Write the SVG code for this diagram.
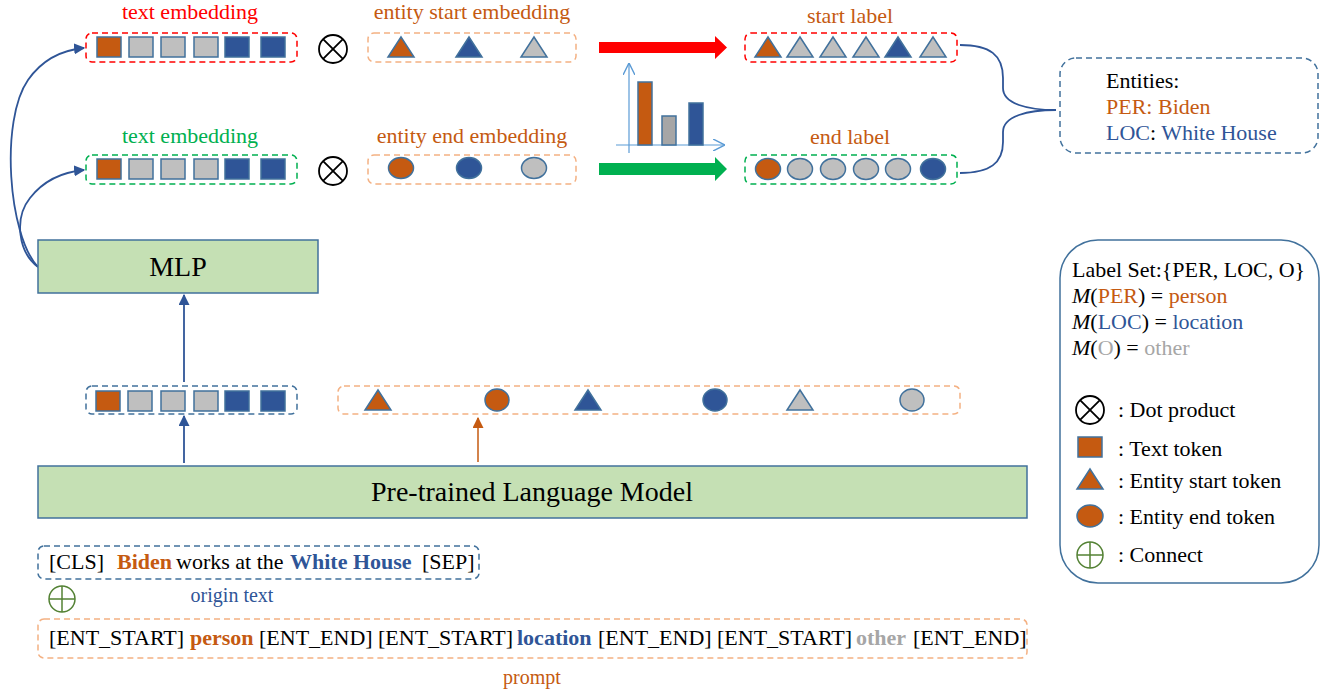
<svg xmlns="http://www.w3.org/2000/svg" width="1322" height="694" viewBox="0 0 1322 694">
  <style>
    text { font-family: "Liberation Serif", "Times New Roman", serif; font-size: 22px; fill: #000; }
    .o { fill: #c55a11; }
    .b { fill: #2f5597; }
    .g { fill: #bfbfbf; }
    .tok { stroke: #41719c; stroke-width: 1.5; }
    .dash { fill: none; stroke-width: 1.5; stroke-dasharray: 6 4; }
    .dred { stroke: #ff0000; }
    .dgrn { stroke: #00b050; }
    .dorg { stroke: #f4b183; }
    .dblu { stroke: #41719c; }
    .box { fill: #c5e0b4; stroke: #41719c; stroke-width: 1.5; }
    .link { fill: none; stroke: #2f5597; stroke-width: 1.8; }
    .dot { fill: none; stroke: #000; stroke-width: 1.8; }
    .plus { fill: none; stroke: #548235; stroke-width: 1.5; }
    .axis { fill: none; stroke: #5b9bd5; stroke-width: 1.2; }
    .tc { text-anchor: middle; }
    .to { fill: #c55a11; }
    .tb { fill: #2f5597; }
    .tg { fill: #a6a6a6; }
    .bold { font-weight: bold; }
  </style>
  <defs>
    <rect id="sq" x="-12" y="-10" width="24" height="20"/>
    <polygon id="tri" points="0,-10 13,10 -13,10"/>
    <ellipse id="ell" rx="12.5" ry="10.5"/>
    <g id="otimes">
      <circle r="14" class="dot"/>
      <path d="M-9.9,-9.9 L9.9,9.9 M9.9,-9.9 L-9.9,9.9" class="dot"/>
    </g>
    <g id="oplus">
      <circle r="13" class="plus"/>
      <path d="M-13,0 H13 M0,-13 V13" class="plus"/>
    </g>
    <marker id="ahB" viewBox="0 0 10 10" refX="9" refY="5" markerWidth="11" markerHeight="11" markerUnits="userSpaceOnUse" orient="auto">
      <path d="M0,0 L10,5 L0,10 z" fill="#2f5597"/>
    </marker>
    <marker id="ahO" viewBox="0 0 10 10" refX="9" refY="5" markerWidth="11" markerHeight="11" markerUnits="userSpaceOnUse" orient="auto">
      <path d="M0,0 L10,5 L0,10 z" fill="#c55a11"/>
    </marker>
    <marker id="ahAx" viewBox="0 0 10 10" refX="10" refY="5" markerWidth="12" markerHeight="12" markerUnits="userSpaceOnUse" orient="auto">
      <path d="M0,0 L10,5 L0,10" fill="none" stroke="#5b9bd5" stroke-width="1.2"/>
    </marker>
  </defs>

  <!-- connectors -->
  <g id="connectors">
    <path class="link" d="M38,267 C8,235 0,120 28,80 C42,60 62,50 84,48" marker-end="url(#ahB)"/>
    <path class="link" d="M38,267 C18,252 14,218 30,198 C44,180 62,172 84,170" marker-end="url(#ahB)"/>
    <line class="link" x1="184" y1="382" x2="184" y2="295" marker-end="url(#ahB)"/>
    <line class="link" x1="184" y1="463" x2="184" y2="416" marker-end="url(#ahB)"/>
    <line x1="478" y1="462" x2="478" y2="418" stroke="#c55a11" stroke-width="1.5" marker-end="url(#ahO)"/>
    <polygon points="599,42 715,42 715,36 727,47.5 715,59 715,53 599,53" fill="#ff0000"/>
    <polygon points="599,163 715,163 715,157 727,169 715,181 715,175 599,175" fill="#00b050"/>
    <path class="link" d="M960,45 C990,45 1003,55 1003,78 L1003,88 C1003,104 1028,110 1056,110"/>
    <path class="link" d="M960,173 C990,173 1003,163 1003,142 L1003,132 C1003,116 1028,110 1056,110"/>
  </g>

  <!-- start-side text embedding -->
  <g id="text-emb-start">
    <text x="190" y="19" class="tc" style="fill:#ff0000">text embedding</text>
    <rect x="86" y="33" width="211" height="29" rx="6" class="dash dred"/>
    <use href="#sq" x="109" y="47" class="tok o"/>
    <use href="#sq" x="141" y="47" class="tok g"/>
    <use href="#sq" x="173" y="47" class="tok g"/>
    <use href="#sq" x="206" y="47" class="tok g"/>
    <use href="#sq" x="237" y="47" class="tok b"/>
    <use href="#sq" x="273" y="47" class="tok b"/>
  </g>

  <!-- end-side text embedding -->
  <g id="text-emb-end">
    <text x="190" y="143" class="tc" style="fill:#00b050">text embedding</text>
    <rect x="86" y="155" width="211" height="29" rx="6" class="dash dgrn"/>
    <use href="#sq" x="109" y="169" class="tok o"/>
    <use href="#sq" x="141" y="169" class="tok g"/>
    <use href="#sq" x="173" y="169" class="tok g"/>
    <use href="#sq" x="206" y="169" class="tok g"/>
    <use href="#sq" x="237" y="169" class="tok b"/>
    <use href="#sq" x="273" y="169" class="tok b"/>
  </g>

  <g id="dot-start"><use href="#otimes" x="333" y="49"/></g>
  <g id="dot-end"><use href="#otimes" x="333" y="171"/></g>

  <!-- entity start embedding -->
  <g id="entity-start-emb">
    <text x="472" y="19" class="tc to">entity start embedding</text>
    <rect x="368" y="33" width="208" height="29" rx="6" class="dash dorg"/>
    <use href="#tri" x="401" y="47" class="tok o"/>
    <use href="#tri" x="469" y="47" class="tok b"/>
    <use href="#tri" x="534" y="47" class="tok g"/>
  </g>

  <!-- entity end embedding -->
  <g id="entity-end-emb">
    <text x="472" y="143" class="tc to">entity end embedding</text>
    <rect x="368" y="155" width="208" height="29" rx="6" class="dash dorg"/>
    <use href="#ell" x="401" y="168" class="tok o"/>
    <use href="#ell" x="469" y="168" class="tok b"/>
    <use href="#ell" x="534" y="168" class="tok g"/>
  </g>

  <!-- score chart -->
  <g id="chart">
    <line class="axis" x1="629" y1="153" x2="629" y2="63" marker-end="url(#ahAx)"/>
    <line class="axis" x1="616" y1="145" x2="725" y2="145" marker-end="url(#ahAx)"/>
    <rect x="638" y="82" width="14" height="63" class="tok o"/>
    <rect x="662" y="116" width="14" height="29" class="tok" fill="#a6a6a6"/>
    <rect x="689" y="103" width="14" height="42" class="tok b"/>
  </g>

  <!-- start label -->
  <g id="start-label">
    <text x="850" y="23" class="tc to">start label</text>
    <rect x="745" y="33" width="212" height="29" rx="6" class="dash dred"/>
    <use href="#tri" x="768" y="47" class="tok o"/>
    <use href="#tri" x="800" y="47" class="tok g"/>
    <use href="#tri" x="833" y="47" class="tok g"/>
    <use href="#tri" x="866" y="47" class="tok g"/>
    <use href="#tri" x="898" y="47" class="tok b"/>
    <use href="#tri" x="933" y="47" class="tok g"/>
  </g>

  <!-- end label -->
  <g id="end-label">
    <text x="850" y="144" class="tc to">end label</text>
    <rect x="745" y="155" width="212" height="29" rx="6" class="dash dgrn"/>
    <use href="#ell" x="768" y="169" class="tok o"/>
    <use href="#ell" x="800" y="169" class="tok g"/>
    <use href="#ell" x="833" y="169" class="tok g"/>
    <use href="#ell" x="866" y="169" class="tok g"/>
    <use href="#ell" x="898" y="169" class="tok g"/>
    <use href="#ell" x="933" y="169" class="tok b"/>
  </g>

  <!-- extracted entities -->
  <g id="entities">
    <rect x="1060" y="58" width="258" height="95" rx="16" class="dash dblu"/>
    <text x="1106" y="88">Entities:</text>
    <text x="1106" y="114" class="to">PER: Biden</text>
    <text x="1106" y="140"><tspan class="tb">LOC</tspan>: <tspan class="tb">White House</tspan></text>
  </g>

  <!-- MLP -->
  <g id="mlp">
    <rect x="38" y="240" width="280" height="53" class="box"/>
    <text x="178" y="276" class="tc" style="font-size:28px">MLP</text>
  </g>

  <!-- encoder text output -->
  <g id="plm-text-out">
    <rect x="86" y="386" width="211" height="28" rx="6" class="dash dblu"/>
    <use href="#sq" x="108" y="401" class="tok o"/>
    <use href="#sq" x="140" y="401" class="tok g"/>
    <use href="#sq" x="173" y="401" class="tok g"/>
    <use href="#sq" x="206" y="401" class="tok g"/>
    <use href="#sq" x="237" y="401" class="tok b"/>
    <use href="#sq" x="273" y="401" class="tok b"/>
  </g>

  <!-- encoder entity-marker output -->
  <g id="plm-entity-out">
    <rect x="338" y="386" width="622" height="28" rx="6" class="dash dorg"/>
    <use href="#tri" x="378" y="400" class="tok o"/>
    <ellipse cx="497" cy="400" rx="12" ry="11" class="tok o"/>
    <use href="#tri" x="588" y="400" class="tok b"/>
    <ellipse cx="715" cy="400" rx="12" ry="11" class="tok b"/>
    <use href="#tri" x="800" y="400" class="tok g"/>
    <ellipse cx="912" cy="400" rx="12" ry="11" class="tok g"/>
  </g>

  <!-- pre-trained language model -->
  <g id="plm">
    <rect x="38" y="466" width="989" height="52" class="box"/>
    <text x="532" y="501" class="tc" style="font-size:28px">Pre-trained Language Model</text>
  </g>

  <!-- input sentence -->
  <g id="origin-text">
    <rect x="38" y="546" width="441" height="33" rx="6" class="dash dblu"/>
    <text y="569">
      <tspan x="49">[CLS]</tspan>
      <tspan x="117" class="to bold">Biden</tspan>
      <tspan x="176">works at the</tspan>
      <tspan x="290" class="tb bold">White House</tspan>
      <tspan x="422">[SEP]</tspan>
    </text>
    <text x="232" y="602" class="tc tb" style="font-size:20px">origin text</text>
  </g>

  <g id="connect"><use href="#oplus" x="62" y="599"/></g>

  <!-- prompt sequence -->
  <g id="prompt">
    <rect x="38" y="619" width="989" height="39" rx="6" class="dash dorg"/>
    <text y="645">
      <tspan x="49">[ENT_START]</tspan>
      <tspan x="190" class="to bold">person</tspan>
      <tspan x="259">[ENT_END]</tspan>
      <tspan x="378">[ENT_START]</tspan>
      <tspan x="517" class="tb bold">location</tspan>
      <tspan x="598">[ENT_END]</tspan>
      <tspan x="717">[ENT_START]</tspan>
      <tspan x="856" class="tg bold">other</tspan>
      <tspan x="913">[ENT_END]</tspan>
    </text>
    <text x="532" y="684" class="tc to" style="font-size:20px">prompt</text>
  </g>

  <!-- legend -->
  <g id="legend">
    <rect x="1060" y="240" width="259" height="343" rx="38" fill="none" stroke="#41719c" stroke-width="1.5"/>
    <text x="1072" y="277">Label Set:{PER, LOC, O}</text>
    <text x="1072" y="303"><tspan font-style="italic">M</tspan>(<tspan class="to">PER</tspan>) = <tspan class="to">person</tspan></text>
    <text x="1072" y="329"><tspan font-style="italic">M</tspan>(<tspan class="tb">LOC</tspan>) = <tspan class="tb">location</tspan></text>
    <text x="1072" y="355"><tspan font-style="italic">M</tspan>(<tspan class="tg">O</tspan>) = <tspan class="tg">other</tspan></text>
    <use href="#otimes" x="1090" y="410"/>
    <text x="1118" y="417">: Dot product</text>
    <use href="#sq" x="1090" y="447" class="tok o"/>
    <text x="1118" y="456">: Text token</text>
    <use href="#tri" x="1090" y="479" class="tok o"/>
    <text x="1118" y="488">: Entity start token</text>
    <ellipse cx="1090" cy="516" rx="13" ry="11" class="tok o"/>
    <text x="1118" y="524">: Entity end token</text>
    <use href="#oplus" x="1090" y="555"/>
    <text x="1118" y="562">: Connect</text>
  </g>
</svg>
